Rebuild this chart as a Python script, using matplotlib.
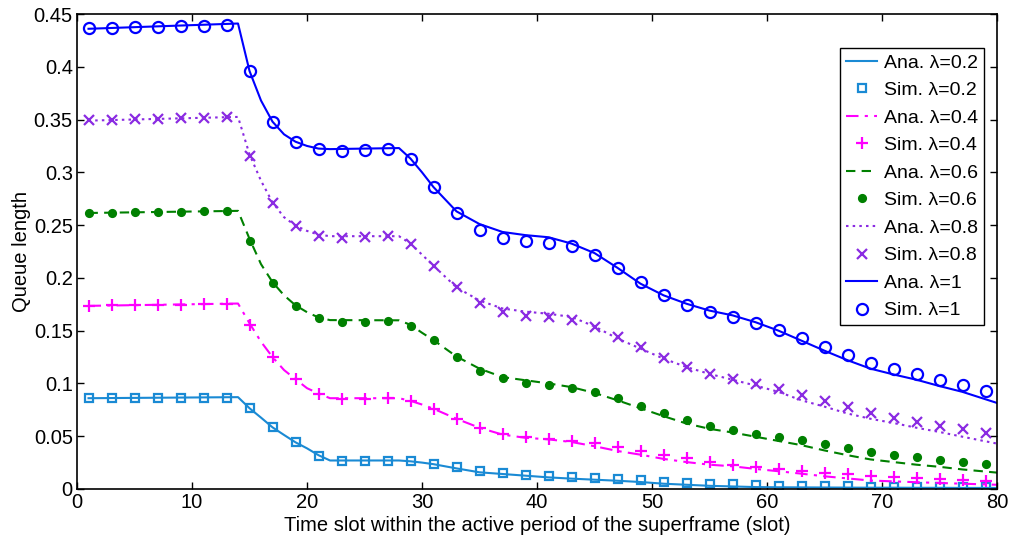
import matplotlib
matplotlib.use("Agg")
import matplotlib.pyplot as plt
from matplotlib.ticker import FuncFormatter

plt.rcParams['font.family'] = ['Liberation Sans', 'DejaVu Sans']

# Analytical curves
ana_x = [1, 14, 15, 16, 17, 18, 19, 20, 21, 22, 28, 29, 30, 31, 33, 35, 37, 39, 41, 43,
         45, 47, 49, 51, 53, 55, 57, 59, 61, 63, 65, 67, 69, 71, 73, 75, 77, 80]
ana_02 = [0.086, 0.087, 0.0765, 0.0676, 0.0584, 0.0512, 0.0442, 0.0385, 0.032, 0.027, 0.027,
          0.0262, 0.025, 0.0235, 0.0195, 0.0158, 0.0142, 0.0126, 0.011, 0.0098, 0.0088, 0.0078,
          0.0066, 0.005, 0.004, 0.003, 0.0024, 0.0018, 0.0016, 0.0015, 0.0014, 0.0013, 0.0012,
          0.0012, 0.0011, 0.0011, 0.001, 0.001]
ana_04 = [0.1735, 0.1757, 0.157, 0.1395, 0.125, 0.1127, 0.104, 0.0955, 0.0905, 0.086, 0.086,
          0.0835, 0.080, 0.076, 0.0665, 0.058, 0.0515, 0.0485, 0.047, 0.0445, 0.0405, 0.036,
          0.0325, 0.0285, 0.0255, 0.023, 0.0215, 0.019, 0.0168, 0.0145, 0.012, 0.010, 0.008,
          0.0072, 0.0064, 0.0057, 0.005, 0.004]
ana_06 = [0.2615, 0.2635, 0.237, 0.213, 0.196, 0.1835, 0.174, 0.1675, 0.1625, 0.160, 0.1598,
          0.1555, 0.148, 0.141, 0.1255, 0.114, 0.106, 0.103, 0.100, 0.0965, 0.091, 0.084,
          0.0765, 0.069, 0.062, 0.057, 0.0535, 0.0495, 0.0455, 0.0415, 0.0365, 0.032, 0.028,
          0.0255, 0.023, 0.021, 0.0185, 0.0155]
ana_08 = [0.349, 0.3525, 0.317, 0.292, 0.2715, 0.2575, 0.2495, 0.2445, 0.241, 0.2395, 0.2395,
          0.2325, 0.222, 0.2115, 0.191, 0.1785, 0.171, 0.168, 0.166, 0.163, 0.154, 0.1425,
          0.133, 0.1235, 0.1155, 0.109, 0.1035, 0.098, 0.092, 0.084, 0.078, 0.0715, 0.0665,
          0.0625, 0.058, 0.054, 0.0495, 0.043]
ana_10 = [0.436, 0.441, 0.396, 0.368, 0.348, 0.336, 0.329, 0.325, 0.3225, 0.322, 0.323,
          0.313, 0.300, 0.286, 0.263, 0.251, 0.2435, 0.2405, 0.2385, 0.2325, 0.2235, 0.2095,
          0.1945, 0.1835, 0.1755, 0.169, 0.1645, 0.158, 0.150, 0.1405, 0.131, 0.122, 0.114,
          0.1085, 0.1035, 0.0975, 0.092, 0.0815]

# Simulation points
sim_x = list(range(1, 80, 2))
sim_02 = [0.0860, 0.0861, 0.0862, 0.0862, 0.0863, 0.0864, 0.0865,
          0.0764, 0.0584, 0.0442, 0.0316, 0.0268, 0.0268, 0.0268, 0.0262, 0.0237, 0.0205,
          0.0171, 0.0149, 0.0133, 0.0126, 0.0117, 0.0107, 0.0095, 0.0085, 0.0069, 0.006,
          0.005, 0.0045, 0.0038, 0.0031, 0.0028, 0.0026, 0.0024, 0.0022, 0.002, 0.0019,
          0.0018, 0.0017, 0.0016]
sim_04 = [0.1734, 0.174, 0.1743, 0.1743, 0.1746, 0.1749, 0.1752,
          0.1551, 0.1248, 0.1039, 0.0900, 0.0856, 0.0856, 0.0859, 0.0831, 0.0755, 0.0667,
          0.0581, 0.0518, 0.049, 0.0471, 0.0455, 0.0433, 0.0401, 0.0363, 0.0322, 0.0291,
          0.0253, 0.0227, 0.0211, 0.0187, 0.0171, 0.0154, 0.0139, 0.0126, 0.0117, 0.0104,
          0.0095, 0.0085, 0.0076]
sim_06 = [0.2613, 0.2616, 0.262, 0.2623, 0.2626, 0.263, 0.2632,
          0.235, 0.1955, 0.1734, 0.1616, 0.1585, 0.1585, 0.1588, 0.1547, 0.1407, 0.125,
          0.112, 0.1047, 0.1006, 0.0984, 0.0961, 0.092, 0.086, 0.0788, 0.0718, 0.0652,
          0.0598, 0.0563, 0.0525, 0.0493, 0.0462, 0.0424, 0.0389, 0.0351, 0.0326, 0.0301,
          0.0278, 0.0256, 0.0234]
sim_08 = [0.3492, 0.350, 0.3505, 0.3508, 0.3511, 0.3514, 0.352,
          0.3157, 0.2711, 0.2496, 0.2401, 0.2382, 0.2389, 0.2394, 0.2325, 0.2116, 0.191,
          0.1762, 0.168, 0.1642, 0.1626, 0.160, 0.1537, 0.1442, 0.1341, 0.124, 0.1158,
          0.1094, 0.1041, 0.0999, 0.0946, 0.0892, 0.0835, 0.0778, 0.0724, 0.0677, 0.0639,
          0.0598, 0.0566, 0.0528]
sim_10 = [0.4363, 0.4368, 0.4378, 0.438, 0.4387, 0.439, 0.440,
          0.396, 0.3476, 0.3286, 0.3217, 0.3205, 0.3208, 0.3217, 0.3125, 0.286, 0.2617,
          0.2458, 0.2379, 0.2347, 0.2332, 0.2306, 0.2221, 0.2094, 0.1964, 0.1838, 0.1746,
          0.168, 0.163, 0.1573, 0.1509, 0.1433, 0.1348, 0.1265, 0.1196, 0.1139, 0.1085,
          0.1034, 0.0984, 0.093]

lambdas = ['0.2', '0.4', '0.6', '0.8', '1']
ana_all = [ana_02, ana_04, ana_06, ana_08, ana_10]
sim_all = [sim_02, sim_04, sim_06, sim_08, sim_10]

colors = ['#1a8ad4', '#ff00ff', '#008000', '#8a2be2', '#0000ff']
linestyles = ['-', (0, (6, 3, 1.5, 3)), (0, (4.5, 3)), (0, (1.2, 2)), '-']
markers = ['s', '+', 'o', 'x', 'o']
msizes = [6, 8, 5, 6.5, 8]
mfill = ['none', 'full', 'full', 'full', 'none']

fig = plt.figure(figsize=(10.12, 5.39), dpi=100)
ax = fig.add_axes([0.0761, 0.0928, 0.9091, 0.8812])

for lam, a, s, c, ls, m, ms, mf in zip(lambdas, ana_all, sim_all, colors, linestyles,
                                        markers, msizes, mfill):
    ax.plot(ana_x, a, color=c, linestyle=ls, linewidth=1.5, label='Ana. \u03bb=' + lam)
    ax.plot(sim_x, s, linestyle='none', marker=m, markersize=ms, color=c,
            markerfacecolor=('none' if mf == 'none' else c), markeredgewidth=1.6,
            label='Sim. \u03bb=' + lam)

ax.set_xlim(0, 80)
ax.set_ylim(0, 0.45)
ax.set_xticks(range(0, 81, 10))
ax.set_yticks([i * 0.05 for i in range(10)])
ax.yaxis.set_major_formatter(FuncFormatter(lambda v, p: '%g' % round(v, 2)))
ax.tick_params(direction='in', length=5, width=1, labelsize=14.5, top=True, right=True,
               pad=3)
for sp in ax.spines.values():
    sp.set_linewidth(1.2)

ax.set_xlabel('Time slot within the active period of the superframe (slot)', fontsize=14.5,
              labelpad=3)
ax.set_ylabel('Queue length', fontsize=14.5, labelpad=2)

leg = ax.legend(loc='upper right', bbox_to_anchor=(0.986, 0.928), fontsize=14,
                frameon=True, fancybox=False, edgecolor='black', framealpha=1,
                handlelength=1.6, handletextpad=0.35, labelspacing=0.51, borderpad=0.3,
                borderaxespad=0)
leg.get_frame().set_linewidth(1.0)

fig.savefig('out.png', dpi=100)
